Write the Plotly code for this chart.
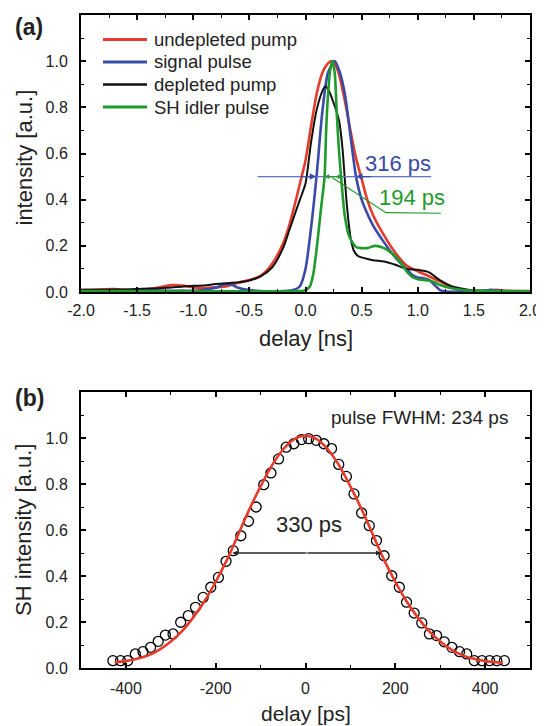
import plotly.graph_objects as go

# ---------------- Panel (a) data: delay [ns] vs intensity [a.u.] ----------------
red_x = [-2.0,-1.9,-1.8,-1.7,-1.6,-1.5,-1.4,-1.3,-1.2,-1.1,-1.0,-0.9,-0.8,-0.7,-0.6,-0.5,-0.4,-0.3,-0.2,-0.15,-0.1,-0.05,0.0,0.05,0.1,0.15,0.2,0.23,0.26,0.3,0.35,0.4,0.45,0.5,0.55,0.6,0.7,0.8,0.9,1.0,1.1,1.2,1.3,1.4,1.5,1.6,1.7,1.8,1.9,2.0]
red_y = [0.008,0.01,0.012,0.013,0.009,0.008,0.012,0.02,0.03,0.028,0.02,0.017,0.02,0.025,0.04,0.052,0.07,0.12,0.21,0.28,0.37,0.47,0.57,0.72,0.86,0.95,0.99,1.0,0.99,0.94,0.83,0.70,0.58,0.49,0.40,0.335,0.245,0.17,0.115,0.09,0.068,0.045,0.022,0.008,0.005,0.006,0.009,0.005,0.004,0.004]

blue_x = [-2.0,-1.8,-1.6,-1.5,-1.4,-1.3,-1.2,-1.1,-1.0,-0.9,-0.8,-0.75,-0.7,-0.65,-0.6,-0.5,-0.4,-0.3,-0.2,-0.1,-0.05,0.0,0.05,0.1,0.15,0.2,0.26,0.3,0.35,0.4,0.45,0.5,0.55,0.6,0.7,0.8,0.9,0.95,1.0,1.05,1.1,1.15,1.2,1.25,1.4,1.6,1.65,1.7,1.8,2.0]
blue_y = [0.003,0.004,0.005,0.007,0.012,0.006,0.005,0.006,0.005,0.01,0.018,0.028,0.035,0.03,0.018,0.008,0.004,0.003,0.004,0.01,0.025,0.1,0.28,0.51,0.78,0.95,1.0,0.96,0.86,0.68,0.5,0.40,0.34,0.29,0.215,0.15,0.10,0.075,0.063,0.06,0.053,0.03,0.008,0.002,0.002,0.006,0.01,0.006,0.003,0.003]

black_x = [-2.0,-1.8,-1.6,-1.5,-1.4,-1.3,-1.2,-1.1,-1.0,-0.9,-0.8,-0.7,-0.6,-0.5,-0.4,-0.3,-0.2,-0.15,-0.1,-0.05,0.0,0.05,0.1,0.15,0.175,0.2,0.25,0.3,0.33,0.35,0.37,0.4,0.43,0.47,0.5,0.6,0.7,0.8,0.9,1.0,1.1,1.2,1.3,1.4,1.5,1.6,1.8,2.0]
black_y = [0.01,0.01,0.011,0.013,0.015,0.016,0.02,0.023,0.027,0.028,0.035,0.038,0.042,0.05,0.068,0.105,0.19,0.26,0.33,0.40,0.47,0.65,0.79,0.87,0.89,0.88,0.82,0.74,0.62,0.49,0.37,0.24,0.18,0.155,0.15,0.138,0.132,0.118,0.10,0.096,0.085,0.05,0.025,0.014,0.007,0.004,0.003,0.003]

green_x = [-2.0,-1.5,-1.0,-0.5,-0.2,-0.05,0.0,0.04,0.07,0.1,0.14,0.17,0.184,0.2,0.22,0.24,0.26,0.28,0.3,0.317,0.35,0.39,0.45,0.5,0.55,0.62,0.7,0.75,0.8,0.85,0.9,0.95,1.0,1.05,1.1,1.15,1.2,1.3,1.4,1.5,1.7,2.0]
green_y = [0.004,0.004,0.003,0.003,0.003,0.004,0.008,0.025,0.08,0.19,0.37,0.50,0.70,0.85,0.96,1.0,0.95,0.76,0.60,0.50,0.33,0.24,0.195,0.19,0.19,0.20,0.19,0.175,0.155,0.125,0.09,0.065,0.055,0.052,0.05,0.042,0.03,0.016,0.009,0.006,0.004,0.003]

series_a = [
    ("undepleted pump", red_x, red_y, "#e63a2a", 2.6),
    ("signal pulse", blue_x, blue_y, "#3a4aa8", 2.6),
    ("depleted pump", black_x, black_y, "#111111", 2.0),
    ("SH idler pulse", green_x, green_y, "#1f9a2c", 2.6),
]

# FWHM annotations panel (a) (ns)
blue_fwhm = (0.095, 0.45)
green_fwhm = (0.17, 0.33)

# ---------------- Panel (b) data: delay [ps] vs SH intensity ----------------
meas_x = [-429,-412,-396,-379,-362,-345,-328,-312,-295,-278,-261,-245,-228,-211,-194,-177,-161,-144,-127,-110,-93,-77,-60,-43,-26,-9,7,24,41,58,74,91,108,125,142,158,175,192,209,225,242,259,276,292,309,326,343,359,376,393,410,426,443]
meas_y = [0.032,0.032,0.032,0.061,0.071,0.09,0.116,0.143,0.148,0.199,0.228,0.264,0.307,0.351,0.394,0.464,0.51,0.575,0.638,0.70,0.797,0.848,0.909,0.96,0.975,0.993,0.997,0.99,0.975,0.954,0.885,0.833,0.757,0.674,0.619,0.554,0.488,0.401,0.351,0.286,0.239,0.196,0.148,0.141,0.114,0.09,0.071,0.061,0.032,0.032,0.032,0.032,0.032]

fit_x = [-425,-400,-375,-350,-325,-300,-275,-250,-225,-200,-175,-150,-125,-100,-75,-50,-25,0,25,50,75,100,125,150,175,200,225,250,275,300,325,350,375,400,425,440]
fit_y = [0.025,0.03,0.04,0.055,0.08,0.115,0.16,0.22,0.29,0.375,0.47,0.58,0.69,0.79,0.88,0.95,0.995,1.01,0.995,0.95,0.88,0.79,0.69,0.58,0.47,0.375,0.29,0.22,0.16,0.115,0.08,0.055,0.04,0.03,0.025,0.022]

fit_fwhm = (-162, 168)

# The page body has an 8px default margin: the figure starts at (8, 8) in the
# 544x726 window, so it is sized to reach the window's right/bottom edges and all
# page-pixel positions are shifted by that margin.
PAGE_W, PAGE_H, OFF = 544, 726, 8
W, H = PAGE_W - OFF, PAGE_H - OFF
FONT = "Liberation Sans, Arial, Helvetica, sans-serif"
TXT = "#222"

def fx(px):
    return (px - OFF) / W

def fy(py):
    return 1 - (py - OFF) / H

# plot-area geometry (page pixels)
XL, XR = 81, 530
YA_T, YA_B = 15, 292
YB_T, YB_B = 392, 668

fig = go.Figure()
for name, xs, ys, col, lw in series_a:
    fig.add_trace(go.Scatter(x=xs, y=ys, mode="lines", name=name,
                             line=dict(color=col, width=lw, shape="spline", smoothing=0.7),
                             showlegend=False, xaxis="x", yaxis="y"))

fig.add_trace(go.Scatter(x=meas_x, y=meas_y, mode="markers", showlegend=False,
                         marker=dict(symbol="circle-open", size=10, color="black", line=dict(width=1.3)),
                         xaxis="x2", yaxis="y2"))
fig.add_trace(go.Scatter(x=fit_x, y=fit_y, mode="lines", showlegend=False,
                         line=dict(color="#e63a2a", width=2.6, shape="spline"),
                         xaxis="x2", yaxis="y2"))

xd = [fx(XL), fx(XR)]
ya_dom = [fy(YA_B), fy(YA_T)]
yb_dom = [fy(YB_B), fy(YB_T)]

axis_common = dict(showline=True, linewidth=2, linecolor="black", mirror="ticks",
                   ticks="inside", ticklen=5, tickwidth=1.5, tickcolor="black",
                   showgrid=False, zeroline=False, automargin=False, ticklabeloverflow="allow",
                   tickfont=dict(family=FONT, size=16, color=TXT))
minor_common = dict(ticks="inside", ticklen=3, tickwidth=1.2, tickcolor="black")

yt = [0, 0.2, 0.4, 0.6, 0.8, 1.0]
ytt = ["0.0", "0.2", "0.4", "0.6", "0.8", "1.0"]
fig.update_layout(
    width=W, height=H, margin=dict(l=0, r=0, t=0, b=0),
    paper_bgcolor="white", plot_bgcolor="white",
    font=dict(family=FONT, color=TXT),
    xaxis=dict(domain=xd, anchor="y", range=[-2, 2], tickvals=[-2,-1.5,-1,-0.5,0,0.5,1,1.5,2],
               ticktext=["-2.0","-1.5","-1.0","-0.5","0.0","0.5","1.0","1.5","2.0"],
               minor=dict(tickvals=[-1.75,-1.25,-0.75,-0.25,0.25,0.75,1.25,1.75], **minor_common),
               ticklabelstandoff=3, **axis_common),
    yaxis=dict(domain=ya_dom, anchor="x", range=[0, 1.2], tickvals=yt, ticktext=ytt,
               minor=dict(tickvals=[0.1,0.3,0.5,0.7,0.9,1.1], **minor_common),
               ticklabelstandoff=8, **axis_common),
    xaxis2=dict(domain=xd, anchor="y2", range=[-500, 500], tickvals=[-400,-200,0,200,400],
                ticktext=["-400","-200","0","200","400"],
                minor=dict(tickvals=[-300,-100,100,300], **minor_common),
                ticklabelstandoff=5, **axis_common),
    yaxis2=dict(domain=yb_dom, anchor="x2", range=[0, 1.2], tickvals=yt, ticktext=ytt,
                minor=dict(tickvals=[0.1,0.3,0.5,0.7,0.9,1.1], **minor_common),
                ticklabelstandoff=8, **axis_common),
)

shapes = []
annots = []

def page_text(px, py, text, size, xanchor="center", angle=0, color=TXT):
    annots.append(dict(xref="paper", yref="paper", x=fx(px), y=fy(py), text=text,
                       showarrow=False, xanchor=xanchor, yanchor="middle", textangle=angle,
                       font=dict(family=FONT, size=size, color=color)))

def arrowhead(xr, yr, head, tail, y, color, size=1.0, width=1.2):
    annots.append(dict(xref=xr, yref=yr, x=head, y=y, ax=tail, ay=y, axref=xr, ayref=yr,
                       text="", showarrow=True, arrowhead=2, arrowsize=size, arrowwidth=width,
                       arrowcolor=color, standoff=0, startstandoff=0))

# axis titles
xc = (XL + XR) / 2
page_text(xc, 339, "delay [ns]", 22)
page_text(xc, 713, "delay [ps]", 21)
page_text(24, (YA_T + YA_B) / 2 + 4, "intensity [a.u.]", 22, angle=-90)
page_text(23, (YB_T + YB_B) / 2, "SH intensity [a.u.]", 22, angle=-90)

# manual legend (panel a)
leg_rows = [39.5, 62, 84.5, 107]
for (name, xs, ys, col, lw), py in zip(series_a, leg_rows):
    shapes.append(dict(type="line", xref="paper", yref="paper", x0=fx(103), x1=fx(147),
                       y0=fy(py), y1=fy(py), line=dict(color=col, width=lw + 0.4)))
    page_text(152, py, name, 18.5, xanchor="left")

# blue FWHM marker
shapes.append(dict(type="line", xref="x", yref="y", x0=-0.427, x1=1.12, y0=0.5, y1=0.5,
                   line=dict(color="#6272c4", width=1.2)))
arrowhead("x", "y", blue_fwhm[0], blue_fwhm[0] - 0.15, 0.5, "#3a4aa8", 1.0, 1.3)
arrowhead("x", "y", blue_fwhm[1], blue_fwhm[1] + 0.15, 0.5, "#3a4aa8", 1.0, 1.3)
annots.append(dict(xref="x", yref="y", x=0.827, y=0.555, text="316 ps", showarrow=False,
                   font=dict(family=FONT, size=22, color="#3a4aa8")))

# green FWHM marker
gmid = (green_fwhm[0] + green_fwhm[1]) / 2
shapes.append(dict(type="line", xref="x", yref="y", x0=green_fwhm[0], x1=green_fwhm[1], y0=0.5, y1=0.5,
                   line=dict(color="#1f9a2c", width=1.1)))
for head in green_fwhm:
    arrowhead("x", "y", head, gmid, 0.5, "#1f9a2c", 0.8, 1.2)
shapes.append(dict(type="path", xref="x", yref="y",
                   path="M 0.24 0.495 L 0.717 0.344 L 1.206 0.341",
                   line=dict(color="#1f9a2c", width=1.1)))
annots.append(dict(xref="x", yref="y", x=0.951, y=0.41, text="194 ps", showarrow=False,
                   font=dict(family=FONT, size=22, color="#1f9a2c")))

# panel (b) FWHM arrow
fmid = (fit_fwhm[0] + fit_fwhm[1]) / 2
shapes.append(dict(type="line", xref="x2", yref="y2", x0=fit_fwhm[0], x1=fit_fwhm[1], y0=0.5, y1=0.5,
                   line=dict(color="#333", width=1.1)))
for head in fit_fwhm:
    arrowhead("x2", "y2", head, fmid, 0.5, "#222", 0.9, 1.1)
annots.append(dict(xref="x2", yref="y2", x=7, y=0.626, text="330 ps", showarrow=False,
                   font=dict(family=FONT, size=22, color=TXT)))
annots.append(dict(xref="x2", yref="y2", x=455, y=1.09, text="pulse FWHM: 234 ps", showarrow=False,
                   xanchor="right", font=dict(family=FONT, size=19, color=TXT)))

# panel labels
page_text(13, 27, "<b>(a)</b>", 23, xanchor="left")
page_text(13, 398, "<b>(b)</b>", 23, xanchor="left")

fig.update_layout(shapes=shapes, annotations=annots)
fig.write_html("out.html")
